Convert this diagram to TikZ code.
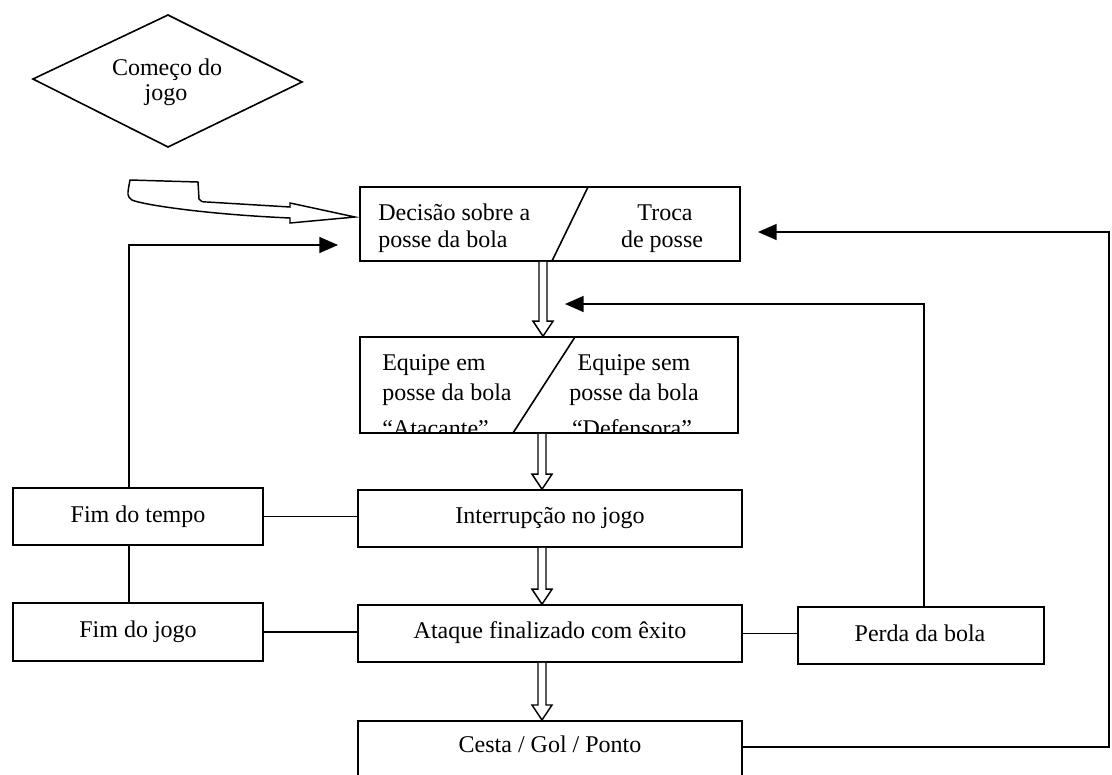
\documentclass[tikz,border=0pt]{standalone}
\usepackage{fontspec}
\setmainfont{Liberation Serif}
\usetikzlibrary{arrows.meta,fit,calc}
\newcommand\fatarrow[2]{%
  \draw[fat] let \p1=(#1), \p2=(#2) in
    (\x1-3pt,\y1) -- (\x1-3pt,\y2+11.25pt) -- (\x1-7.5pt,\y2+11.25pt) -- (\x1,\y2)
    -- (\x1+7.5pt,\y2+11.25pt) -- (\x1+3pt,\y2+11.25pt) -- (\x1+3pt,\y1);}
\begin{document}
\begin{tikzpicture}[x=0.75pt,y=-0.75pt,
  box/.style={draw, line width=1.2pt, inner sep=0pt},
  ln/.style={line width=1.2pt},
  arr/.style={ln, -{Triangle[length=14pt,width=12pt]}},
  fat/.style={line width=1.1pt, fill=white, line join=miter},
  txt/.style={font=\fontsize{18}{21.5}\selectfont, inner sep=0pt}]
\fill[white] (0,0) rectangle (1112,774);
\useasboundingbox (0,0) rectangle (1112,774);
\clip (0,0) rectangle (1112,774);

% start diamond
\draw[ln] (33,79) -- (168,15) -- (302,82) -- (168,147) -- cycle;
\node[txt, anchor=base] (st1) at (167,75) {Começo do};
\node[txt, anchor=base] (st2) at (166,100) {jogo};

% boxes
\node[box, fit={(360,187) (740,261)}] (dec) {};
\draw[ln] (588,187) -- (552,261);
\node[txt, anchor=base west] (d1) at (378,220) {Decisão sobre a};
\node[txt, anchor=base west] (d2) at (378,247) {posse da bola};
\node[txt, anchor=base] (d3) at (665,220) {Troca};
\node[txt, anchor=base] (d4) at (662,247) {de posse};

\node[box, fit={(360,337) (738,433)}] (eq) {};
\draw[ln] (575,337) -- (513,433);
\begin{scope}
\clip (360,337) rectangle (738,432);
\node[txt, anchor=base west] (e1) at (382,370) {Equipe em};
\node[txt, anchor=base west] (e2) at (382,400) {posse da bola};
\node[txt, anchor=base west] (e3) at (382,436) {“Atacante”};
\node[txt, anchor=base] (e4) at (634,370) {Equipe sem};
\node[txt, anchor=base] (e5) at (634,400) {posse da bola};
\node[txt, anchor=base] (e6) at (632,436) {“Defensora”};
\end{scope}

\node[box, fit={(358,490) (742,547)}] (int) {};
\node[txt, anchor=base] (it) at (550,523) {Interrupção no jogo};
\node[box, fit={(358,605) (742,662)}] (ata) {};
\node[txt, anchor=base] (at) at (550,638) {Ataque finalizado com êxito};
\node[box, fit={(358,720) (742,774)}, minimum height=54*0.75pt+22pt, anchor=north, at={(550,720)}] (ces) {};
\node[txt, anchor=base] (ct) at (550,752) {Cesta / Gol / Ponto};

\node[box, fit={(13,488) (263,545)}] (ftempo) {};
\node[txt, anchor=base] (ftt) at (138,522) {Fim do tempo};
\node[box, fit={(13,603) (263,661)}] (fjogo) {};
\node[txt, anchor=base] (fjt) at (138,637) {Fim do jogo};
\node[box, fit={(798,607) (1044,664)}] (perda) {};
\node[txt, anchor=base] (pt) at (920,641) {Perda da bola};

% helper coordinates
\coordinate (axA) at (543,0);
\coordinate (axB) at (542,0);
\coordinate (lx) at (129,0);
\coordinate (px) at (924,0);
\coordinate (rx) at (1109,0);
\coordinate (ry) at (0,747);
\coordinate (tA) at (338,245);
\coordinate (tB) at (565,304);
\coordinate (tC) at (758,232);

% hollow arrows
\fatarrow{dec.south -| axA}{eq.north -| axA}
\fatarrow{eq.south -| axB}{int.north -| axB}
\fatarrow{int.south -| axB}{ata.north -| axB}
\fatarrow{ata.south -| axB}{ces.north -| axB}

% entry arrow
\draw[fat] (130,180) -- (198,182) -- (199,199) .. controls (202,202) .. (207,202)
  -- (290,207) -- (290,203) -- (355,217) -- (290,223) -- (290,218)
  .. controls (200,214) and (140,204) .. (132,200) .. controls (127,196) .. (130,180) -- cycle;

% connectors
\draw[ln] (ftempo.east) -- (ftempo.east -| int.west);
\draw[ln] (fjogo.east) -- (fjogo.east -| ata.west);
\draw[ln] (ata.east) -- (ata.east -| perda.west);
\draw[ln] (ftempo.south -| lx) -- (fjogo.north -| lx);
\draw[arr] (ftempo.north -| lx) |- (tA);
\draw[arr] (perda.north -| px) |- (tB);
\draw[arr] (ces.east |- ry) -| (rx |- tC) -- (tC);
\end{tikzpicture}
\end{document}
